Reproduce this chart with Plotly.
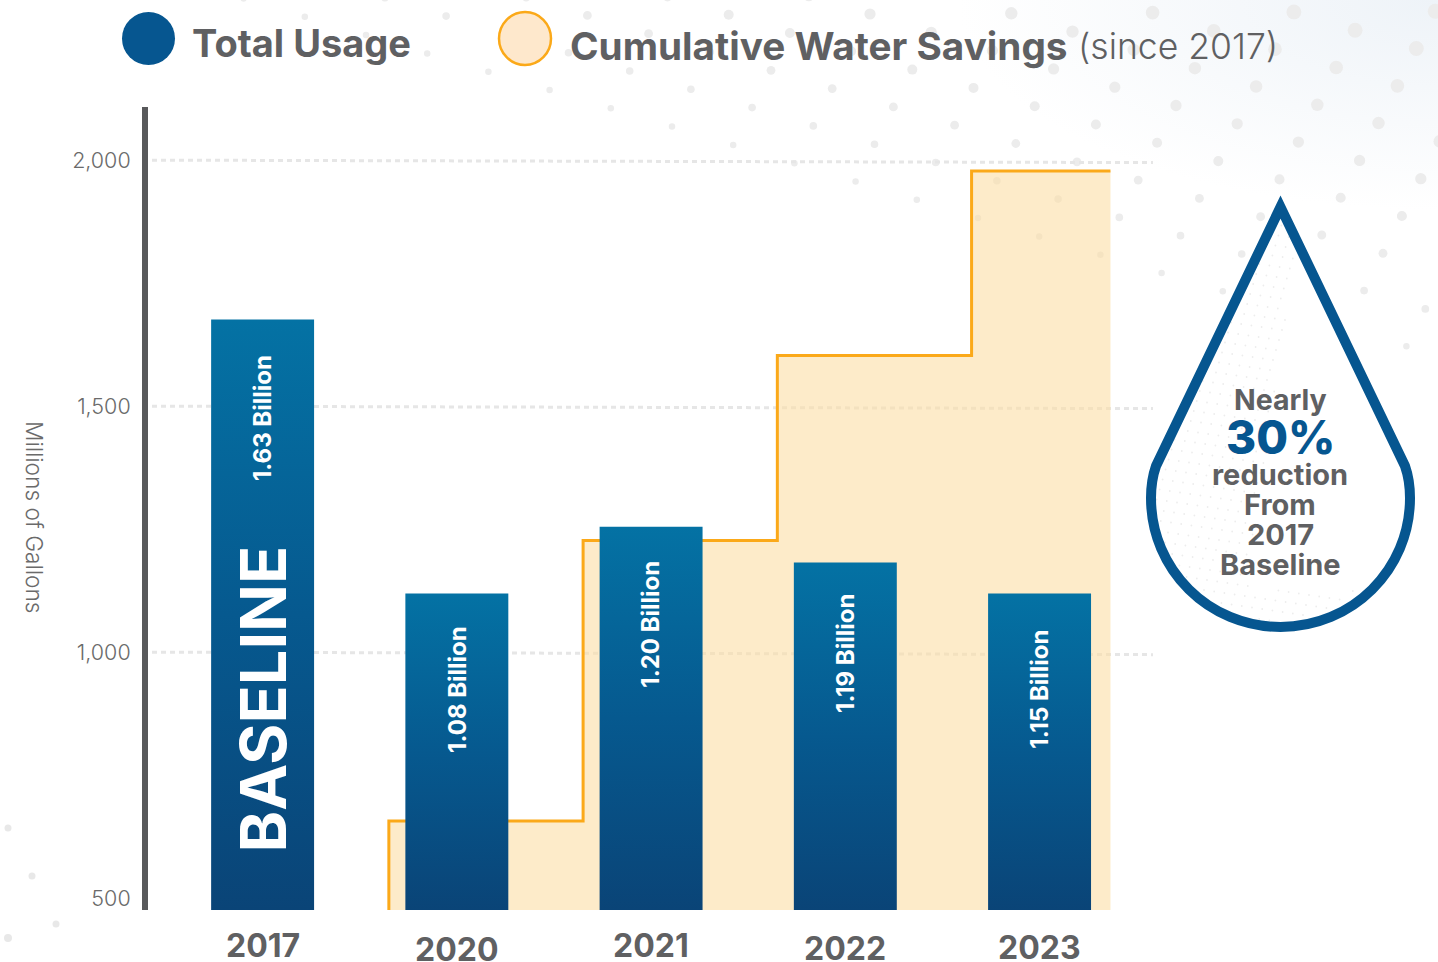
import plotly.graph_objects as go

# ---- data ----
years = ["2017", "2020", "2021", "2022", "2023"]
total_usage = [1676, 1119, 1255, 1182, 1119]
usage_labels = ["1.63 Billion", "1.08 Billion", "1.20 Billion", "1.19 Billion", "1.15 Billion"]
usage_label_y = [1475, 925, 1056, 997, 925]
savings_edges = [0.65, 0.65, 1.65, 2.65, 3.65, 4.365]
savings_values = [476, 657, 1227, 1603, 1978, 1978]
y_ticks = [500, 1000, 1500, 2000]
y_tick_text = ["500", "1,000", "1,500", "2,000"]
year_label_y = [945, 949, 945, 948, 947]

W, H = 1438, 962
FONT = "Inter"
GREY = "#5f6062"
BLUE = "#065690"
ORANGE = "#fba919"
AXIS_FLOOR = 476
AXIS_TOP = 2108
X_POS = list(range(len(years)))
X_RANGE = [-0.59, 4.584]


def px(x):
    return x / W


def py(y):
    return 1 - y / H


def inside_drop(x, y):
    if (x - 1280) ** 2 + (y - 497) ** 2 < 136 ** 2:
        return True
    if 195 < y < 497:
        return abs(x - 1280) < (y - 195) * 0.5 + 6
    return False


shapes = []


def dot(cx, cy, d, color="#ececec"):
    shapes.append(dict(type="circle", xref="paper", yref="paper", layer="below",
                       x0=px(cx - d / 2), x1=px(cx + d / 2), y0=py(cy + d / 2), y1=py(cy - d / 2),
                       fillcolor=color, line=dict(width=0)))


# decorative background lattice
for i in range(-12, 14):
    for j in range(-2, 22):
        x = 870 + 141.3 * i + 61.2 * j
        y = 14 - 0.7 * i + 18.3 * j
        if not (-5 < x < W + 10 and -5 < y < 360):
            continue
        y_line = 70 + (x - 500) * 0.304
        dist = y_line - y
        if dist < -25 or inside_drop(x, y):
            continue
        dot(x, y, min(15, 6.5 + 0.028 * max(dist, 0)))
for cx, cy, d in [(8, 828, 7), (32, 876, 7), (56, 924, 7), (8, 938, 8)]:
    dot(cx, cy, d, "#e8e8e8")

# fine dots inside the drop
for i in range(0, 42):
    for j in range(0, 44):
        x = 1150 + 10.2 * i - 3 * j + 60
        y = 215 + 10 * j + 1.5 * i
        if x > 1300 - (y - 215) * 0.14 and y < 590:
            continue
        if (x - 1280) ** 2 + (y - 497) ** 2 < 124 ** 2 or (y < 497 and abs(x - 1280) < (y - 215) * 0.47):
            dot(x, y, 1.8, "#ededed")

# dotted grid lines with the reference's very slight tilt
for v in y_ticks[1:]:
    shapes.append(dict(type="line", xref="paper", yref="y", layer="below",
                       x0=px(152), x1=px(1153), y0=v, y1=v - 5,
                       line=dict(color="#e6e6e6", width=3, dash="5px,4px")))

# legend swatches
shapes.append(dict(type="circle", xref="paper", yref="paper", layer="above",
                   x0=px(122), x1=px(175), y0=py(65), y1=py(12), fillcolor=BLUE, line=dict(width=0)))
shapes.append(dict(type="circle", xref="paper", yref="paper", layer="above",
                   x0=px(499), x1=px(551), y0=py(65), y1=py(12), fillcolor="#fee8cc",
                   line=dict(color=ORANGE, width=2.5)))

# drop outline
pts = ("M{a},{b} L{c},{d} C{e},{f} {g},{h} {g},{i} C{g},{j} {k},{l} {m},{l} "
       "C{n},{l} {o},{j} {o},{i} C{o},{h} {p},{f} {q},{d} Z")
drop = pts.format(a=px(1280.5), b=py(207), c=px(1156), d=py(466), e=px(1152.5), f=py(476),
                  g=px(1151), h=py(487), i=py(498), j=py(570), k=px(1209), l=py(627),
                  m=px(1280.5), n=px(1352), o=px(1410), p=px(1408.5), q=px(1405))
shapes.append(dict(type="path", xref="paper", yref="paper", layer="above", path=drop,
                   fillcolor="rgba(0,0,0,0)", line=dict(color=BLUE, width=10)))

fig = go.Figure()
fig.add_trace(go.Scatter(x=savings_edges, y=savings_values, mode="lines",
                         line=dict(color=ORANGE, width=3, shape="hv"),
                         fill="tozeroy", fillcolor="rgba(252,222,165,0.6)",
                         name="Cumulative Water Savings", hoverinfo="skip"))
fig.add_trace(go.Bar(x=X_POS, y=[v - AXIS_FLOOR for v in total_usage], base=[AXIS_FLOOR] * len(years),
                     width=0.53, marker=dict(color=BLUE, line=dict(width=0)),
                     name="Total Usage", hoverinfo="skip", xaxis="x2", yaxis="y2"))

ann = []


def text(x, y, s, size, color=GREY, weight=700, xanchor="center", xref="paper", yref="paper", angle=0):
    ann.append(dict(x=x, y=y, xref=xref, yref=yref, text=s, showarrow=False, xanchor=xanchor,
                    yanchor="middle", textangle=angle,
                    font=dict(family=FONT, size=size, color=color, weight=weight)))


text(px(190), py(43), "Total Usage", 38, xanchor="left")
text(px(568), py(46), "Cumulative Water Savings", 38.7, xanchor="left")
text(px(1076), py(46), "(since 2017)", 35.5, weight=300, xanchor="left")
text(px(35), py(517), "Millions of Gallons", 22.7, weight=300, angle=90, color="#6a6a6a")

for i, yr in enumerate(years):
    text(i, py(year_label_y[i]), yr, 32, xref="x")
    text(i, usage_label_y[i], usage_labels[i], 24, color="white", xref="x", yref="y", angle=-90)
text(0, 905, "BASELINE", 63, color="white", xref="x", yref="y", angle=-90)

for y, s, size, col, w in [(399, "Nearly", 28.5, GREY, 700), (437, "30%", 46, BLUE, 800),
                           (475, "reduction", 29, GREY, 700), (504, "From", 29, GREY, 700),
                           (534, "2017", 29, GREY, 700), (564, "Baseline", 29, GREY, 700)]:
    text(px(1280), py(y), s, size, color=col, weight=w)

x_domain = [px(148), px(1153)]
y_domain = [py(910), py(107)]
fig.update_layout(
    width=W, height=H, margin=dict(l=0, r=0, t=0, b=0), autosize=False,
    paper_bgcolor="rgba(0,0,0,0)", plot_bgcolor="rgba(0,0,0,0)",
    showlegend=False, shapes=shapes, annotations=ann,
    xaxis=dict(domain=x_domain, range=X_RANGE, showgrid=False, zeroline=False,
               showticklabels=False, ticks="", showline=False, fixedrange=True),
    yaxis=dict(domain=y_domain, range=[AXIS_FLOOR, AXIS_TOP], tickvals=y_ticks,
               ticktext=y_tick_text, showgrid=False, zeroline=False, showline=True, linewidth=6,
               linecolor="#58595b", ticks="outside", ticklen=7, tickcolor="rgba(0,0,0,0)",
               tickfont=dict(family=FONT, size=21.5, color="#6a6a6a", weight=300), fixedrange=True),
    xaxis2=dict(overlaying="x", domain=x_domain, range=X_RANGE, visible=False, fixedrange=True),
    yaxis2=dict(overlaying="y", domain=y_domain, range=[AXIS_FLOOR, AXIS_TOP], visible=False, fixedrange=True),
)

post = """
document.body.style.margin = '0';
document.documentElement.style.overflow = 'hidden';
document.body.style.background = 'radial-gradient(ellipse 480px 210px at 100% 0%, #eef3f8, #ffffff)';
var gd = document.getElementById('{plot_id}');
var ns = 'http://www.w3.org/2000/svg';
var svg = gd.querySelector('.main-svg');
var defs = document.createElementNS(ns, 'defs');
var g = document.createElementNS(ns, 'linearGradient');
g.setAttribute('id', 'barGrad'); g.setAttribute('x1', '0'); g.setAttribute('y1', '0');
g.setAttribute('x2', '0'); g.setAttribute('y2', '1');
[['0', '#0472a4'], ['0.5', '#06598f'], ['1', '#0a4477']].forEach(function (s) {
  var st = document.createElementNS(ns, 'stop');
  st.setAttribute('offset', s[0]); st.setAttribute('stop-color', s[1]); g.appendChild(st);
});
defs.appendChild(g); svg.appendChild(defs);
gd.querySelectorAll('.barlayer .point path').forEach(function (p) {
  p.style.fill = 'url(#barGrad)';
});
"""

fig.write_html("out.html", post_script=post, config={"displayModeBar": False})
